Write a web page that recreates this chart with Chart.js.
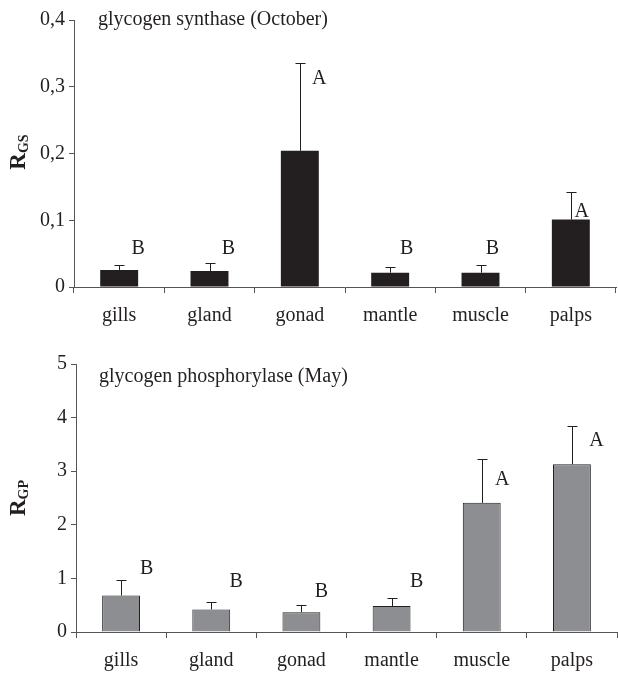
<!DOCTYPE html>
<html><head><meta charset="utf-8">
<script src="https://cdn.jsdelivr.net/npm/chart.js@4.4.1/dist/chart.umd.min.js"></script>
<style>
html,body{margin:0;padding:0;background:#fff;}
#c1wrap{position:absolute;left:0;top:0;width:618px;height:330px;}
#c2wrap{position:absolute;left:0;top:330px;width:618px;height:343px;}
</style></head><body>
<div id="c1wrap"><canvas id="c1"></canvas></div>
<div id="c2wrap"><canvas id="c2"></canvas></div>
<script>
const categories = ['gills','gland','gonad','mantle','muscle','palps'];

const gsValues  = [0.0255, 0.024, 0.204, 0.0215, 0.0215, 0.101];
const gsErrors  = [0.0075, 0.0115, 0.131, 0.008, 0.0115, 0.042];
const gsLetters = ['B','B','A','B','B','A'];
const gsLetterY = [0.058, 0.058, 0.312, 0.058, 0.058, 0.113];
const gsTicks   = ['0','0,1','0,2','0,3','0,4'];

const gpValues  = [0.68, 0.42, 0.37, 0.485, 2.41, 3.13];
const gpErrors  = [0.29, 0.14, 0.14, 0.145, 0.82, 0.71];
const gpLetters = ['B','B','B','B','A','A'];
const gpLetterY = [1.18, 0.93, 0.76, 0.93, 2.84, 3.56];
const gpTicks   = ['0','1','2','3','4','5'];

const FONT = '"Liberation Serif", "Times New Roman", serif';
const INK = '#231f20';
const AXIS = '#555555';
Chart.defaults.font.family = FONT;
Chart.defaults.color = INK;

const annot = {
  id: 'annot',
  afterDatasetsDraw(chart, args, o) {
    const ctx = chart.ctx, ys = chart.scales.y, meta = chart.getDatasetMeta(0);
    ctx.save();
    ctx.strokeStyle = INK; ctx.lineWidth = 1;
    meta.data.forEach((bar, i) => {
      const x = Math.round(bar.x) + 0.5;
      const y0 = ys.getPixelForValue(o.values[i]);
      const y1 = Math.round(ys.getPixelForValue(o.values[i] + o.errors[i])) + 0.5;
      ctx.beginPath();
      ctx.moveTo(x, y0); ctx.lineTo(x, y1);
      ctx.moveTo(x - 5, y1); ctx.lineTo(x + 5, y1);
      ctx.stroke();
    });
    ctx.fillStyle = INK;
    ctx.font = '20px ' + FONT;
    ctx.textAlign = 'center'; ctx.textBaseline = 'middle';
    meta.data.forEach((bar, i) => {
      ctx.fillText(o.letters[i], bar.x + o.letterDx[i], ys.getPixelForValue(o.letterY[i]));
    });
    ctx.textAlign = 'left'; ctx.textBaseline = 'alphabetic';
    ctx.fillText(o.title, o.titleX, o.titleY);
    ctx.translate(o.ylabX, o.ylabY);
    ctx.rotate(-Math.PI / 2);
    ctx.font = 'bold 23px ' + FONT;
    const w1 = ctx.measureText(o.ylab).width;
    ctx.font = 'bold 14px ' + FONT;
    const w2 = ctx.measureText(o.ylabSub).width;
    const start = -(w1 + w2) / 2;
    ctx.font = 'bold 23px ' + FONT;
    ctx.fillText(o.ylab, start, 7);
    ctx.font = 'bold 14px ' + FONT;
    ctx.fillText(o.ylabSub, start + w1, 9.5);
    ctx.restore();
  }
};

function makeChart(id, cfg) {
  return new Chart(document.getElementById(id), {
    type: 'bar',
    data: {
      labels: categories,
      datasets: [{
        data: cfg.values,
        backgroundColor: cfg.fill,
        borderColor: INK,
        borderWidth: cfg.border,
        barPercentage: 0.42,
        categoryPercentage: 1.0
      }]
    },
    options: {
      responsive: true,
      maintainAspectRatio: false,
      animation: false,
      layout: { padding: cfg.padding },
      plugins: {
        legend: { display: false },
        tooltip: { enabled: false },
        annot: cfg.annot
      },
      scales: {
        x: {
          grid: { offset: true, drawOnChartArea: false, drawTicks: true, tickLength: 6, color: AXIS },
          border: { color: AXIS },
          ticks: { font: { size: 20 }, color: INK, padding: 11, maxRotation: 0 },
          afterFit(s) { s.height = cfg.xHeight; }
        },
        y: {
          min: 0, max: cfg.max,
          grid: { drawOnChartArea: false, drawTicks: true, tickLength: 5, color: AXIS },
          border: { color: AXIS },
          ticks: {
            stepSize: cfg.step, font: { size: 20 }, color: INK, padding: 4,
            callback: (v, i) => cfg.ticks[i]
          },
          afterFit(s) { s.width = cfg.yWidth; }
        }
      }
    },
    plugins: [annot]
  });
}

makeChart('c1', {
  values: gsValues, fill: INK, border: 0, max: 0.4, step: 0.1, ticks: gsTicks,
  padding: { top: 20, right: 2, left: 0, bottom: 0 }, xHeight: 43, yWidth: 74,
  annot: {
    values: gsValues, errors: gsErrors, letters: gsLetters, letterY: gsLetterY,
    letterDx: [19, 19, 19.5, 16.5, 12, 11],
    title: 'glycogen synthase (October)', titleX: 98, titleY: 24.5,
    ylab: 'R', ylabSub: 'GS', ylabX: 18, ylabY: 152
  }
});

makeChart('c2', {
  values: gpValues, fill: '#8d8e92', border: 1, max: 5, step: 1, ticks: gpTicks,
  padding: { top: 34, right: 1, left: 0, bottom: 0 }, xHeight: 41, yWidth: 76,
  annot: {
    values: gpValues, errors: gpErrors, letters: gpLetters, letterY: gpLetterY,
    letterDx: [25.5, 25, 20, 25, 20.5, 24.5],
    title: 'glycogen phosphorylase (May)', titleX: 99, titleY: 51.5,
    ylab: 'R', ylabSub: 'GP', ylabX: 18, ylabY: 168
  }
});
</script>
</body></html>
